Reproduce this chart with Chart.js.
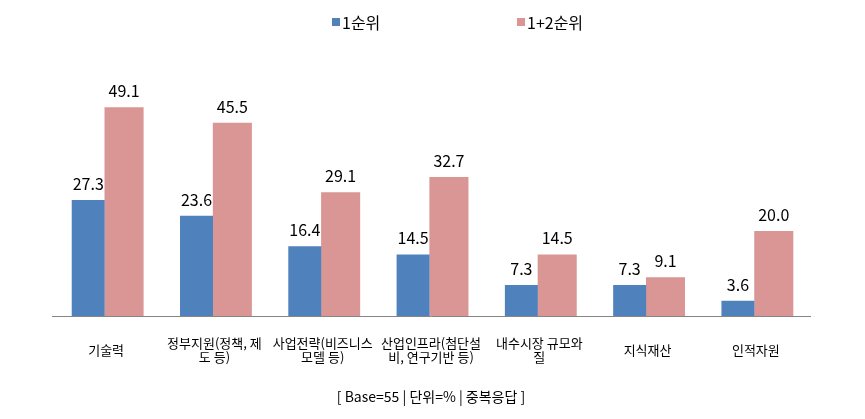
<!DOCTYPE html>
<html>
<head>
<meta charset="utf-8">
<script src="https://cdn.jsdelivr.net/npm/chart.js@4"></script>
<style>
  html, body { margin: 0; padding: 0; background: #fff; }
  #wrap { position: relative; width: 865px; height: 419px; }
  #legend { position: absolute; top: 12px; left: 0; width: 865px; height: 20px;
            font-family: "Noto Sans CJK KR", "Noto Sans", sans-serif; font-size: 16px; color: #000; }
  .item { position: absolute; top: 0; display: flex; align-items: center; height: 20px; line-height: 20px; }
  .sw { width: 8px; height: 8px; margin-right: 2px; display: inline-block; }
</style>
</head>
<body>
<div id="wrap">
  <canvas id="c" width="865" height="419"></canvas>
  <div id="legend"></div>
</div>
<script>
const categories = [
  "기술력",
  ["정부지원(정책, 제", "도 등)"],
  ["사업전략(비즈니스", "모델 등)"],
  ["산업인프라(첨단설", "비, 연구기반 등)"],
  ["내수시장 규모와", "질"],
  "지식재산",
  "인적자원"
];
const seriesNames = ["1순위", "1+2순위"];
const rank1 = [27.3, 23.6, 16.4, 14.5, 7.3, 7.3, 3.6];
const rank12 = [49.1, 45.5, 29.1, 32.7, 14.5, 9.1, 20.0];
const footnote = "[ Base=55 | 단위=% | 중복응답 ]";

const colors = ["#4F81BD", "#D99694"];
const FONT = '"Noto Sans CJK KR", "Noto Sans", sans-serif';

// HTML legend
const legendEl = document.getElementById('legend');
const legendLeft = [332, 517];
seriesNames.forEach((name, i) => {
  const it = document.createElement('div');
  it.className = 'item';
  it.style.left = legendLeft[i] + 'px';
  const sw = document.createElement('span');
  sw.className = 'sw';
  sw.style.background = colors[i];
  const tx = document.createElement('span');
  tx.textContent = name;
  it.appendChild(sw); it.appendChild(tx);
  legendEl.appendChild(it);
});

const valueLabels = {
  id: 'valueLabels',
  afterDatasetsDraw(chart) {
    const ctx = chart.ctx;
    ctx.save();
    ctx.font = '16px ' + FONT;
    ctx.fillStyle = '#000';
    ctx.textAlign = 'center';
    ctx.textBaseline = 'alphabetic';
    chart.data.datasets.forEach((ds, di) => {
      const meta = chart.getDatasetMeta(di);
      meta.data.forEach((bar, i) => {
        ctx.fillText(ds.data[i].toFixed(1), bar.x, bar.y - 10);
      });
    });
    ctx.restore();
  }
};

new Chart(document.getElementById('c'), {
  type: 'bar',
  data: {
    labels: categories,
    datasets: [
      { label: seriesNames[0], data: rank1, backgroundColor: colors[0], barPercentage: 0.92, categoryPercentage: 0.662 },
      { label: seriesNames[1], data: rank12, backgroundColor: colors[1], barPercentage: 1.09, categoryPercentage: 0.662 }
    ]
  },
  options: {
    responsive: false,
    animation: false,
    devicePixelRatio: 1,
    layout: { padding: { left: 52, right: 55, top: 61, bottom: 0 } },
    plugins: {
      legend: { display: false },
      tooltip: { enabled: false },
      title: {
        display: true,
        position: 'bottom',
        text: footnote,
        color: '#000',
        font: { family: FONT, size: 14, weight: 'normal', lineHeight: 1.2 },
        padding: { top: 0, bottom: 14 }
      }
    },
    scales: {
      x: {
        grid: { display: false, drawTicks: false },
        border: { display: true, color: '#868686', width: 1 },
        ticks: {
          color: '#000',
          font: { family: FONT, size: 13, lineHeight: 1.1 },
          padding: 27,
          maxRotation: 0, minRotation: 0, autoSkip: false,
          crossAlign: 'center'
        },
        afterFit(scale) { scale.height = 72.2; }
      },
      y: { display: false, min: 0, max: 60 }
    }
  },
  plugins: [valueLabels]
});
</script>
</body>
</html>
